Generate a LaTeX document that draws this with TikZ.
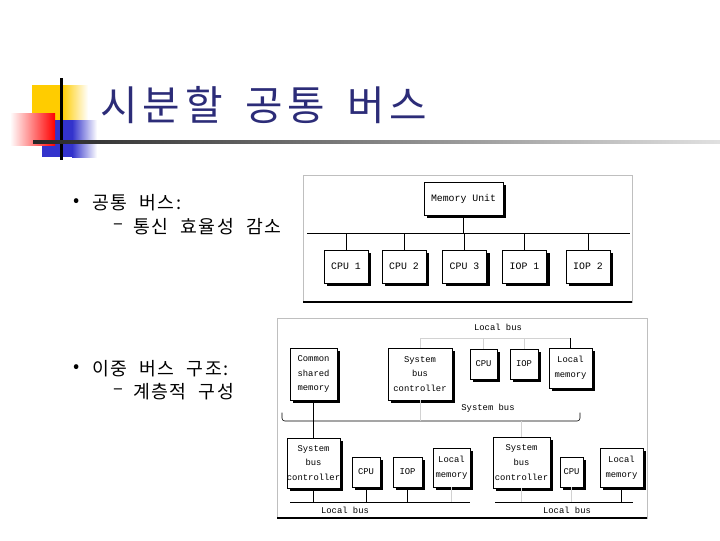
\documentclass[tikz,border=0pt]{standalone}
\usepackage{fontspec}
\setmonofont{Liberation Mono}
\newfontfamily\krfont[WordSpace=2.2,LetterSpace=8]{Noto Sans CJK KR}
\newfontfamily\krtitle[WordSpace=1.6,LetterSpace=12]{Noto Sans CJK KR}
\usetikzlibrary{shadows,positioning}
\definecolor{titlecol}{RGB}{44,44,120}
\definecolor{decoyellow}{RGB}{255,204,0}
\definecolor{decoblue}{RGB}{51,51,204}
\definecolor{decored}{RGB}{255,0,0}

\tikzset{
  unitbox/.style={draw, fill=white, line width=0.6pt, align=center, inner sep=0pt,
    font=\ttfamily\fontsize{7}{8}\selectfont,
    drop shadow={shadow xshift=2.2pt, shadow yshift=-2.2pt, fill=black, opacity=1}},
  smallbox/.style={unitbox, font=\ttfamily\fontsize{6.3}{10.5}\selectfont},
  faint/.style={draw=gray!35},
  buslbl/.style={inner sep=0pt, font=\ttfamily\fontsize{6.3}{7}\selectfont},
  bigtext/.style={inner sep=0pt, font=\krfont\fontsize{13}{14}\selectfont},
}

\begin{document}
\begin{tikzpicture}[x=0.025cm, y=-0.025cm]
  \useasboundingbox (0,0) rectangle (720,540);

  %,  Title decoration, 
  \fill[decoyellow] (32,85) rectangle (62,120);
  \shade[left color=decoyellow, right color=white] (62,85) rectangle (88,120);
  \fill[decoblue] (42,120) rectangle (72,157);
  \shade[left color=decoblue, right color=white] (72,120) rectangle (97,157);
  \shade[left color=white, right color=decored] (10,113) rectangle (55,145);
  \fill[black] (60,78) rectangle (62.5,160);
  \shade[left color=black!85, right color=black!12] (33,140) rectangle (720,143);

  %,  Title, 
  \node[anchor=base west, inner sep=0pt, text=titlecol,
        font=\krtitle\fontsize{29}{30}\selectfont] (title) at (100,120) {시분할 공통 버스};

  %,  Bullets, 
  \node[bigtext] (dot1) at (77,203) {•};
  \node[bigtext, anchor=west] (item1) at (92,203) {공통 버스:};
  \node[bigtext] (dash1) at (118,227) {–};
  \node[bigtext, anchor=west] (sub1) at (133,227) {통신 효율성 감소};
  \node[bigtext] (dot2) at (77,369) {•};
  \node[bigtext, anchor=west] (item2) at (92,369) {이중 버스 구조:};
  \node[bigtext] (dash2) at (118,392) {–};
  \node[bigtext, anchor=west] (sub2) at (133,392) {계층적 구성};

  %,  Time-shared common bus, 
  \draw[gray!50] (303,175) rectangle (632,302);
  \draw[line width=1pt] (303,302) -- (632,302);
  \node[unitbox, minimum width=1.975cm, minimum height=0.825cm] (mem) at (463.5,198.5) {Memory Unit};
  \coordinate (busL) at (307,233);
  \coordinate (busR) at (630,233);
  \draw (busL) -- (busR);
  \draw (mem.south) -- (mem.south |- busL);
  \foreach \n/\x/\lbl in {cpu1/346/CPU 1, cpu2/404/CPU 2, cpu3/464.5/CPU 3,
                          iop1/524.5/IOP 1, iop2/588/IOP 2}
  {
    \node[unitbox, minimum width=1.1cm, minimum height=0.825cm] (\n) at (\x,266.5) {\lbl};
    \draw (\n.north) -- (\n.north |- busL);
  }

  %,  Dual bus structure, 
  \draw[gray!50] (277,318) rectangle (647,518);
  \draw[line width=1pt] (277,518) -- (647,518);

  % upper row
  \node[smallbox, minimum width=1.175cm, minimum height=1.3cm] (csm) at (313.5,374) {Common\\shared\\memory};
  \node[smallbox, minimum width=1.6cm, minimum height=1.3cm] (sbc0) at (420,374) {System\\bus\\controller};
  \node[smallbox, minimum width=0.675cm, minimum height=0.75cm] (cpuA) at (483.5,364) {CPU};
  \node[smallbox, minimum width=0.7cm, minimum height=0.75cm] (iopA) at (524,364) {IOP};
  \node[smallbox, minimum width=1.075cm, minimum height=1.0cm] (lmA) at (570.5,368) {Local\\memory};
  \node[buslbl] (lblA) at (498,327) {Local bus};
  \coordinate (lbusA) at (422,338);
  \draw[faint] (sbc0.north) -- (sbc0.north |- lbusA) -- (lmA.north |- lbusA);
  \draw[faint] (cpuA.north) -- (cpuA.north |- lbusA);
  \draw[faint] (iopA.north) -- (iopA.north |- lbusA);
  \draw (lmA.north) -- (lmA.north |- lbusA);

  % system bus
  \coordinate (sysL) at (282,421);
  \coordinate (sysR) at (580,421);
  \draw[rounded corners=2pt] ([yshift=6pt]sysL) -- (sysL) -- (sysR) -- ([yshift=6pt]sysR);
  \node[buslbl] (lblSys) at (488,408) {System bus};
  \draw (csm.south) -- (csm.south |- sysL);
  \draw[faint] (sbc0.south) -- (sbc0.south |- sysL);

  % lower left
  \node[smallbox, minimum width=1.325cm, minimum height=1.25cm] (sbc1) at (313.5,463) {System\\bus\\controller};
  \node[smallbox, minimum width=0.7cm, minimum height=0.75cm] (cpuB) at (366,472) {CPU};
  \node[smallbox, minimum width=0.725cm, minimum height=0.75cm] (iopB) at (407.5,472) {IOP};
  \node[smallbox, minimum width=0.925cm, minimum height=0.975cm] (lmB) at (451.5,467.5) {Local\\memory};
  \coordinate (lbusBL) at (290,502);
  \coordinate (lbusBR) at (470,502);
  \draw (lbusBL) -- (lbusBR);
  \node[buslbl] (lblB) at (345,510) {Local bus};
  \draw (sbc1.north) -- (sbc1.north |- sysL);
  \foreach \n in {sbc1,cpuB,iopB}
    \draw (\n.south) -- (\n.south |- lbusBL);
  \draw[faint] (lmB.south) -- (lmB.south |- lbusBL);

  % lower right
  \node[smallbox, minimum width=1.425cm, minimum height=1.275cm] (sbc2) at (521.5,462.5) {System\\bus\\controller};
  \node[smallbox, minimum width=0.575cm, minimum height=0.75cm] (cpuC) at (571.5,472) {CPU};
  \node[smallbox, minimum width=1.075cm, minimum height=0.975cm] (lmC) at (621.5,467.5) {Local\\memory};
  \coordinate (lbusCL) at (495,502);
  \coordinate (lbusCR) at (633,502);
  \draw (lbusCL) -- (lbusCR);
  \node[buslbl] (lblC) at (567,510) {Local bus};
  \draw[faint] (sbc2.north) -- (sbc2.north |- sysL);
  \draw[faint] (sbc2.south) -- (sbc2.south |- lbusCL);
  \draw[faint] (cpuC.south) -- (cpuC.south |- lbusCL);
  \draw (lmC.south) -- (lmC.south |- lbusCL);

\end{tikzpicture}
\end{document}
